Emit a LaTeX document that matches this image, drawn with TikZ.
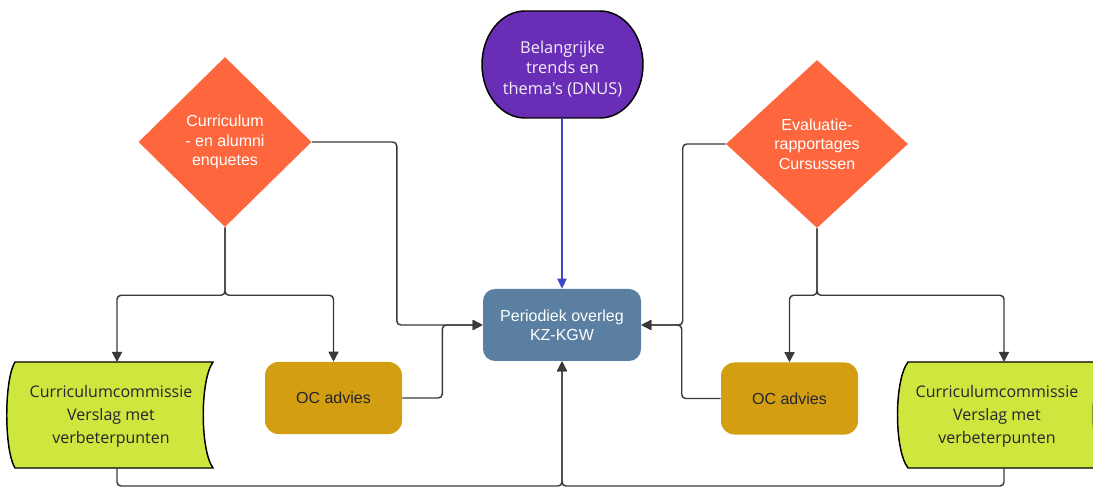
\documentclass[tikz,border=0pt]{standalone}
\usepackage{fontspec}
\setmainfont{Liberation Sans}
\newfontfamily\opensans{Open Sans}
\usetikzlibrary{shapes.geometric,arrows.meta,calc}
\definecolor{dia}{HTML}{FE663D}
\definecolor{purp}{HTML}{6A2DB5}
\definecolor{pkblue}{HTML}{5A7FA0}
\definecolor{ocgold}{HTML}{D39E12}
\definecolor{limeg}{HTML}{CEE63E}
\definecolor{connc}{HTML}{3A3A3A}
\definecolor{bluearr}{HTML}{3F48C8}
\definecolor{darktxt}{HTML}{252530}
\begin{document}
\begin{tikzpicture}[x=0.75pt,y=-0.75pt,
  diam/.style={diamond, fill=dia, text=white, font=\fontsize{12}{14.5}\selectfont, align=center, inner sep=0pt},
  pkbox/.style={rectangle, rounded corners=9pt, fill=pkblue, text=white, font=\fontsize{12}{14.5}\selectfont, align=center, minimum width=118.5pt, minimum height=54pt},
  ocbox/.style={rectangle, rounded corners=10pt, fill=ocgold, text=darktxt, font=\fontsize{12}{14.5}\selectfont, align=center, minimum width=102.75pt, minimum height=54pt},
  doctext/.style={text=darktxt, font=\opensans\fontsize{12}{17.2}\selectfont, align=center, inner sep=0pt},
  docshape/.style={fill=limeg, draw=black, line width=1.1pt},
  ovalshape/.style={fill=purp, draw=black, line width=1.1pt},
  ovaltext/.style={text=white!92!purp, font=\opensans\fontsize{12.3}{15.6}\selectfont, align=center, inner sep=0pt},
  arr/.style={draw=connc, line width=1.1pt, rounded corners=3pt, -{Triangle[length=7.5pt,width=7.5pt]}},
  barr/.style={draw=bluearr, line width=0.8pt, -{Triangle[length=7.5pt,width=7pt]}}
]
\useasboundingbox (0,0) rectangle (1093,488);
\clip (0,0) rectangle (1093,488);

% top oval
\path[ovalshape] (525,11) -- (600,11)
  .. controls (623.7,11) and (643,34.95) .. (643,64.5)
  .. controls (643,94.05) and (623.7,118) .. (600,118)
  -- (525,118)
  .. controls (501.3,118) and (482,94.05) .. (482,64.5)
  .. controls (482,34.95) and (501.3,11) .. (525,11) -- cycle;
\node[ovaltext] (trend) at (562.5,69) {Belangrijke\\trends en\\thema's (DNUS)};
\coordinate (trendout) at (562,118);

% document shapes
\path[docshape] (15,362) -- (213,362) .. controls (200,380) and (200,450) .. (213,468)
  -- (15,468) .. controls (4,450) and (4,380) .. (15,362) -- cycle;
\path[docshape] (908,362) -- (1103,362) .. controls (1090,380) and (1090,450) .. (1103,468)
  -- (908,468) .. controls (894,450) and (894,380) .. (908,362) -- cycle;
\node[doctext] (ld) at (111,416) {Curriculumcommissie\\Verslag met\\verbeterpunten};
\node[doctext] (rd) at (997,416) {Curriculumcommissie\\Verslag met\\verbeterpunten};
\coordinate (ldin) at (117,362);
\coordinate (ldout) at (117,468);
\coordinate (rdin) at (1004,362);
\coordinate (rdout) at (1004,468);

% diamonds
\node[diam, minimum width=129.75pt, minimum height=127.5pt] (ldia) at (225,142) {Curriculum\\- en alumni\\enquetes};
\node[diam, minimum width=136.5pt, minimum height=126pt] (rdia) at (817,144) {Evaluatie-\\rapportages\\Cursussen};

% boxes
\node[pkbox] (pk) at (562,325) {Periodiek overleg\\KZ-KGW};
\node[ocbox] (ocl) at (333.5,398) {OC advies};
\node[ocbox] (ocr) at (789.5,398.5) {OC advies};

% connectors
\draw[barr] (trendout) -- (pk.north);

\draw[arr] (ldia.south) -- ++(0,68) -| (ldin);
\draw[arr] (ldia.south) -- ++(0,68) -| (ocl.north);
\draw[arr] (ldia.east) -- ++(85,0) |- (pk.west);
\draw[arr] (ocl.east) -- ++(40,0) |- (pk.west);

\draw[arr] (rdia.south) -- ++(0,67) -| (ocr.north);
\draw[arr] (rdia.south) -- ++(0,67) -| (rdin);
\draw[arr] (rdia.west) -- ++(-43,0) |- (pk.east);
\draw[arr] (ocr.west) -- ++(-39,0) |- (pk.east);

\draw[arr] (ldout) -- ++(0,18) -| (pk.south);
\draw[arr] (rdout) -- ++(0,18) -| (pk.south);
\end{tikzpicture}
\end{document}
